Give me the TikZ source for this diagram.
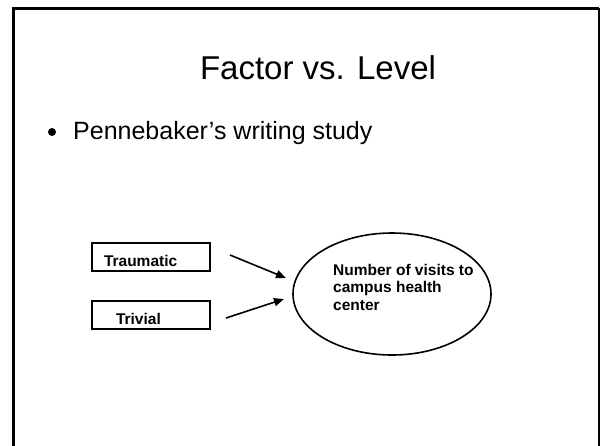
\documentclass[tikz,border=0pt]{standalone}
\usepackage{fontspec}
\setmainfont{Liberation Sans}
\usetikzlibrary{arrows.meta,shapes.geometric}
\tikzset{
  cadre/.style={draw,line width=2pt,text width=94pt,align=left,inner xsep=12pt,inner ysep=0pt,
    text height=23pt,text depth=5pt,font=\fontsize{15.5}{17.5}\selectfont\bfseries},
  fleche/.style={line width=1.6pt,-{Triangle[length=10pt,width=8pt]}}
}
\begin{document}
\begin{tikzpicture}[x=1pt,y=-1pt]
  \useasboundingbox (0,0) rectangle (602,445);
  \draw [line width=3pt](13,447) -- (13,8) -- (599,8);
  \draw [line width=1.6pt](599,8) -- (599,447);
  \node [anchor=base] (titre) at (318,79) {\fontsize{33}{40}\selectfont Factor vs. Level};
  \fill (52,132) circle (4) node (puce) {};
  \node [anchor=base west,inner sep=0pt] (etude) at (73,139) {\fontsize{25}{30}\selectfont Pennebaker’s writing study};
  \node [cadre,anchor=north west] (trauma) at (91,242) {Traumatic};
  \node [cadre,anchor=north west] (trivial) at (91,300) {\hspace*{12pt}Trivial};
  \node [draw,ellipse,line width=1.6pt,minimum width=198pt,minimum height=122pt] (sante) at (392,294) {};
  \node [anchor=base west,align=left,inner sep=0pt,font=\fontsize{15.5}{17.5}\selectfont\bfseries] (visites) at (333,310)
    {Number of visits to\\campus health\\center};%base = derniere ligne
  \coordinate (d1) at (230,255); \coordinate (f1) at (286,278);
  \coordinate (d2) at (226,318); \coordinate (f2) at (284,299);
  \draw [fleche] (d1) -- (f1);
  \draw [fleche] (d2) -- (f2);%fleches vers l'ellipse
\end{tikzpicture}
\end{document}
